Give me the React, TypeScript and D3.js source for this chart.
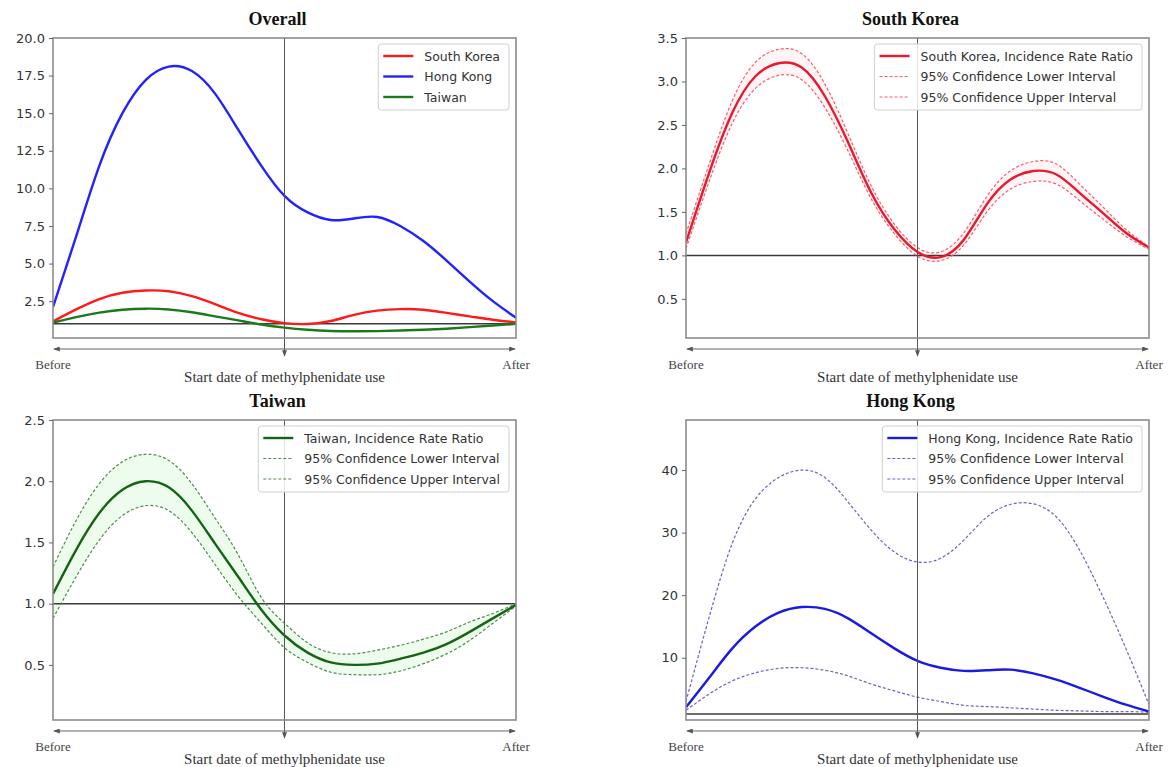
import { useEffect, useRef } from 'react';
import * as d3 from 'd3';

// time axis, from "Before" (0) to "After" (1)
const steps = [0, 0.05, 0.1, 0.15, 0.2, 0.25, 0.3, 0.35, 0.4, 0.45, 0.5, 0.55, 0.6, 0.65, 0.7, 0.75, 0.8, 0.85, 0.9, 0.95, 1];

const southKorea = [1.15, 1.95, 2.64, 3.06, 3.21, 3.16, 2.83, 2.30, 1.72, 1.30, 1.04, 0.98, 1.18, 1.59, 1.87, 1.97, 1.93, 1.72, 1.49, 1.26, 1.09];
const southKoreaLower = [1.08, 1.85, 2.52, 2.92, 3.07, 3.02, 2.70, 2.20, 1.65, 1.25, 0.99, 0.94, 1.12, 1.50, 1.76, 1.85, 1.82, 1.63, 1.42, 1.22, 1.07];
const southKoreaUpper = [1.25, 2.05, 2.78, 3.22, 3.37, 3.32, 2.97, 2.40, 1.80, 1.36, 1.09, 1.04, 1.26, 1.68, 1.97, 2.08, 2.05, 1.82, 1.56, 1.30, 1.10];

const taiwan = [1.08, 1.44, 1.74, 1.93, 2.00, 1.95, 1.76, 1.49, 1.22, 0.95, 0.74, 0.60, 0.52, 0.50, 0.51, 0.55, 0.60, 0.67, 0.77, 0.88, 0.99];
const taiwanLower = [0.88, 1.22, 1.52, 1.72, 1.80, 1.76, 1.58, 1.32, 1.06, 0.84, 0.64, 0.52, 0.44, 0.42, 0.42, 0.45, 0.51, 0.59, 0.70, 0.84, 0.98];
const taiwanUpper = [1.30, 1.68, 1.98, 2.16, 2.22, 2.17, 1.98, 1.70, 1.40, 1.05, 0.84, 0.68, 0.60, 0.59, 0.62, 0.66, 0.71, 0.77, 0.85, 0.92, 1.00];

const hongKong = [2.1, 6.8, 11.5, 15.0, 17.2, 18.1, 17.8, 16.3, 13.9, 11.5, 9.5, 8.4, 7.9, 8.0, 8.1, 7.5, 6.5, 5.2, 3.8, 2.5, 1.4];
const hongKongLower = [1.6, 4.2, 6.3, 7.6, 8.3, 8.4, 8.0, 7.1, 5.8, 4.7, 3.7, 3.0, 2.4, 2.2, 2.0, 1.8, 1.6, 1.5, 1.4, 1.4, 1.3];
const hongKongUpper = [3.0, 16.5, 28.3, 35.4, 38.8, 40.0, 38.8, 34.9, 30.4, 26.9, 25.3, 25.9, 28.8, 32.5, 34.5, 34.6, 32.5, 27.2, 19.8, 11.5, 2.5];

const overallTicks = [2.5, 5, 7.5, 10, 12.5, 15, 17.5, 20];
const southKoreaTicks = [0.5, 1, 1.5, 2, 2.5, 3, 3.5];
const taiwanTicks = [0.5, 1, 1.5, 2, 2.5];
const hongKongTicks = [10, 20, 30, 40];

const ciLabels = ['95% Confidence Lower Interval', '95% Confidence Upper Interval'];

const SANS = "'DejaVu Sans', sans-serif";
const SERIF = "'Liberation Serif', 'Times New Roman', serif";

const panels = [
  {
    title: 'Overall', left: 53, top: 38, yDomain: [0.05, 20], ticks: overallTicks, fmt: '.1f',
    lines: [
      { values: southKorea, color: '#ff1a1a', label: 'South Korea' },
      { values: hongKong, color: '#2222ff', label: 'Hong Kong' },
      { values: taiwan, color: '#1a7a1a', label: 'Taiwan' },
    ],
  },
  {
    title: 'South Korea', left: 686, top: 38, yDomain: [0.05, 3.5], ticks: southKoreaTicks, fmt: '.1f',
    band: { lower: southKoreaLower, upper: southKoreaUpper, fill: 'rgba(255,0,30,0.04)', stroke: '#ff5868' },
    lines: [{ values: southKorea, color: '#e8182e', label: 'South Korea, Incidence Rate Ratio' }],
  },
  {
    title: 'Taiwan', left: 53, top: 420, yDomain: [0.05, 2.5], ticks: taiwanTicks, fmt: '.1f',
    band: { lower: taiwanLower, upper: taiwanUpper, fill: 'rgba(120,230,120,0.13)', stroke: '#4f8a4f' },
    lines: [{ values: taiwan, color: '#146414', label: 'Taiwan, Incidence Rate Ratio' }],
  },
  {
    title: 'Hong Kong', left: 686, top: 420, yDomain: [0.05, 48], ticks: hongKongTicks, fmt: 'd',
    band: { lower: hongKongLower, upper: hongKongUpper, fill: 'none', stroke: '#6a62c8' },
    lines: [{ values: hongKong, color: '#1a1ae0', label: 'Hong Kong, Incidence Rate Ratio' }],
  },
];

const PW = 463;
const PH = 300;

const App = () => {
  const ref = useRef<SVGSVGElement>(null);

  useEffect(() => {
    const svg = d3.select(ref.current);
    svg.selectAll('*').remove();

    const defs = svg.append('defs');
    defs.append('marker')
      .attr('id', 'arrow')
      .attr('viewBox', '0 0 8 6')
      .attr('refX', 7).attr('refY', 3)
      .attr('markerWidth', 7).attr('markerHeight', 5)
      .attr('markerUnits', 'userSpaceOnUse')
      .attr('orient', 'auto-start-reverse')
      .append('path').attr('d', 'M0,0 L8,3 L0,6 z').attr('fill', '#555');

    panels.forEach((p, pi) => {
      const right = p.left + PW;
      const bottom = p.top + PH;
      const mid = (p.left + right) / 2;
      const x = d3.scaleLinear().domain([0, 1]).range([p.left, right]);
      const y = d3.scaleLinear().domain(p.yDomain).range([bottom, p.top]);
      const g = svg.append('g');

      defs.append('clipPath').attr('id', `clip${pi}`)
        .append('rect').attr('x', p.left).attr('y', p.top).attr('width', PW).attr('height', PH);
      const plot = g.append('g').attr('clip-path', `url(#clip${pi})`);

      const line = d3.line<number>()
        .x((_, i) => x(steps[i]))
        .y(d => y(d))
        .curve(d3.curveNatural);

      if (p.band && p.band.fill !== 'none') {
        const area = d3.area<number>()
          .x((_, i) => x(steps[i]))
          .y0((_, i) => y(p.band.lower[i]))
          .y1(d => y(d))
          .curve(d3.curveNatural);
        plot.append('path').attr('d', area(p.band.upper)).attr('fill', p.band.fill);
      }

      // reference line at ratio 1
      plot.append('line')
        .attr('x1', p.left).attr('x2', right)
        .attr('y1', y(1)).attr('y2', y(1))
        .attr('stroke', '#3a3a3a').attr('stroke-width', 1.5);

      // start date marker
      g.append('line')
        .attr('x1', mid).attr('x2', mid)
        .attr('y1', p.top).attr('y2', bottom + 18)
        .attr('stroke', '#555').attr('stroke-width', 1)
        .attr('marker-end', 'url(#arrow)');

      if (p.band) {
        [p.band.lower, p.band.upper].forEach(vals => {
          plot.append('path').attr('d', line(vals))
            .attr('fill', 'none').attr('stroke', p.band.stroke)
            .attr('stroke-width', 1.2).attr('stroke-dasharray', '3,2');
        });
      }

      p.lines.forEach(l => {
        plot.append('path').attr('d', line(l.values))
          .attr('fill', 'none').attr('stroke', l.color)
          .attr('stroke-width', 2.4);
      });

      // frame
      g.append('rect')
        .attr('x', p.left).attr('y', p.top).attr('width', PW).attr('height', PH)
        .attr('fill', 'none').attr('stroke', '#8c8c8c').attr('stroke-width', 1.6);

      const axis = g.append('g')
        .attr('transform', `translate(${p.left},0)`)
        .call(d3.axisLeft(y).tickValues(p.ticks).tickFormat(d3.format(p.fmt)).tickSize(4).tickPadding(4));
      axis.select('.domain').remove();
      axis.selectAll('line').attr('stroke', '#666');
      axis.selectAll('text')
        .attr('fill', '#333').style('font-family', SANS).style('font-size', '13px');

      g.append('text')
        .attr('x', mid - 7).attr('y', p.top - 13)
        .attr('text-anchor', 'middle')
        .style('font-family', SERIF).style('font-size', '18px').style('font-weight', 'bold')
        .attr('fill', '#111')
        .text(p.title);

      // before / after arrow
      g.append('line')
        .attr('x1', p.left + 1).attr('x2', right - 1)
        .attr('y1', bottom + 11).attr('y2', bottom + 11)
        .attr('stroke', '#666').attr('stroke-width', 1)
        .attr('marker-start', 'url(#arrow)').attr('marker-end', 'url(#arrow)');

      [['Before', p.left], ['After', right]].forEach(([t, px]) => {
        g.append('text')
          .attr('x', px as number).attr('y', bottom + 31)
          .attr('text-anchor', 'middle')
          .style('font-family', SERIF).style('font-size', '13px')
          .attr('fill', '#444').text(t as string);
      });
      g.append('text')
        .attr('x', mid).attr('y', bottom + 44)
        .attr('text-anchor', 'middle')
        .style('font-family', SERIF).style('font-size', '15px')
        .attr('fill', '#333').text('Start date of methylphenidate use');

      // legend
      const entries = p.band
        ? [
          { label: p.lines[0].label, color: p.lines[0].color, dash: null, w: 2.4 },
          { label: ciLabels[0], color: p.band.stroke, dash: '3,2', w: 1.2 },
          { label: ciLabels[1], color: p.band.stroke, dash: '3,2', w: 1.2 },
        ]
        : p.lines.map(l => ({ label: l.label, color: l.color, dash: null, w: 2.4 }));

      const leg = g.append('g');
      const box = leg.append('rect');
      const texts = entries.map((e, i) => {
        const ly = p.top + 18 + i * 20.5;
        const row = leg.append('g');
        const ln = row.append('line')
          .attr('y1', ly).attr('y2', ly)
          .attr('stroke', e.color).attr('stroke-width', e.w);
        if (e.dash) ln.attr('stroke-dasharray', e.dash);
        const tx = row.append('text')
          .attr('y', ly + 4.5)
          .style('font-family', SANS).style('font-size', '12.5px')
          .attr('fill', '#333').text(e.label);
        return { ln, tx };
      });
      const maxW = d3.max(texts, t => (t.tx.node() as SVGTextElement).getComputedTextLength()) || 0;
      const legW = maxW + 55;
      const legL = right - 7 - legW;
      texts.forEach(({ ln, tx }) => {
        ln.attr('x1', legL + 5).attr('x2', legL + 35);
        tx.attr('x', legL + 46);
      });
      box.attr('x', legL).attr('y', p.top + 6)
        .attr('width', legW).attr('height', 66)
        .attr('rx', 3)
        .attr('fill', 'rgba(255,255,255,0.85)').attr('stroke', '#d0d0d0').attr('stroke-width', 1);
    });
  }, []);

  return (
    <svg ref={ref} width={1176} height={767}
      style={{ position: 'absolute', left: 0, top: 0, background: '#fff' }} />
  );
};

export default App;
